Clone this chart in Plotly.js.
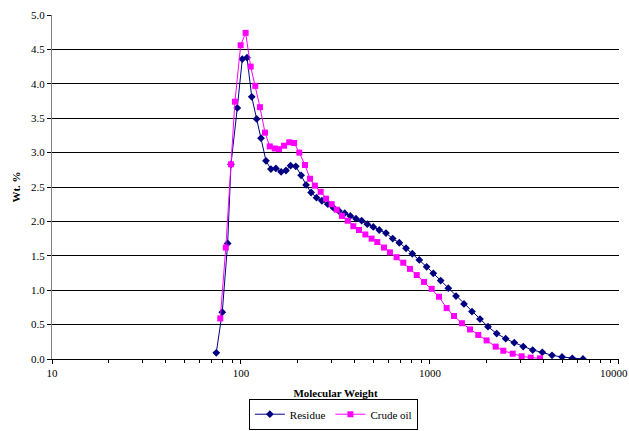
<!DOCTYPE html>
<html>
<head>
<meta charset="utf-8">
<script src="https://cdn.plot.ly/plotly-3.0.1.min.js"></script>
<style>html,body{margin:0;padding:0;background:#fff;}#chart{width:629px;height:431px;}</style>
</head>
<body>
<div id="chart"></div>
<script>
const residueMW = [74, 79.6, 85, 88.5, 95.6, 101.6, 107.6, 114, 121, 127.6, 135.6, 144, 153, 163, 173, 183, 195, 208, 221, 235, 251, 268, 288, 308, 329, 354, 379, 406, 435, 466, 501, 539, 585, 635, 688, 747, 806, 878, 960, 1041, 1139, 1250, 1373, 1513, 1668, 1839, 2027, 2254, 2515, 2793, 3116, 3493, 3929, 4422, 4995, 5662, 6450];
const residueWt = [0.09, 0.68, 1.68, 2.83, 3.65, 4.36, 4.38, 3.81, 3.49, 3.21, 2.88, 2.76, 2.77, 2.72, 2.74, 2.81, 2.80, 2.67, 2.53, 2.42, 2.345, 2.30, 2.25, 2.20, 2.155, 2.12, 2.08, 2.04, 2.01, 1.96, 1.92, 1.875, 1.83, 1.75, 1.69, 1.61, 1.53, 1.44, 1.34, 1.245, 1.14, 1.03, 0.915, 0.80, 0.69, 0.58, 0.47, 0.37, 0.295, 0.237, 0.18, 0.13, 0.097, 0.054, 0.029, 0.01, 0.0];
const crudeMW = [77.7, 83.1, 88.5, 92.9, 99.6, 105.8, 112.5, 119, 126, 134, 142, 151, 159, 169, 180, 191, 203.5, 218, 232, 246, 264, 282, 302, 321, 342, 367, 393, 421, 455, 491, 526, 571, 614, 666, 722, 784, 851, 930, 1021, 1116, 1225, 1340, 1476, 1628, 1801, 1994, 2227, 2443, 2739, 3055, 3411, 3820];
const crudeWt = [0.59, 1.62, 2.83, 3.74, 4.56, 4.74, 4.25, 3.97, 3.66, 3.29, 3.09, 3.06, 3.05, 3.10, 3.15, 3.14, 3.00, 2.82, 2.62, 2.52, 2.43, 2.33, 2.25, 2.17, 2.08, 2.01, 1.93, 1.875, 1.81, 1.75, 1.70, 1.62, 1.55, 1.48, 1.40, 1.31, 1.22, 1.12, 1.02, 0.905, 0.74, 0.625, 0.52, 0.43, 0.35, 0.27, 0.18, 0.12, 0.077, 0.039, 0.02, 0.01];
const xTickVals = [10, 100, 1000, 10000];
const xTickText = ["10", "100", "1000", ""];
const lastTickText = "10000";
const seriesNames = ["Residue", "Crude oil"];

const minorVals = [];
for (const d of [10, 100, 1000]) for (let k = 2; k <= 9; k++) minorVals.push(d * k);

const fam = "Liberation Serif";
const f = (s) => ({family: fam, size: s, color: "#000"});

const traces = [
  {x: residueMW, y: residueWt, name: seriesNames[0], type: "scatter", mode: "lines+markers",
   line: {color: "#000080", width: 1}, marker: {symbol: "diamond", size: 6, color: "#000080"}},
  {x: crudeMW, y: crudeWt, name: seriesNames[1], type: "scatter", mode: "lines+markers",
   line: {color: "#FF00FF", width: 1}, marker: {symbol: "square", size: 6, color: "#FF00FF"}}
];

const layout = {
  width: 629, height: 431,
  margin: {l: 52, r: 10, t: 15, b: 72, autoexpand: false},
  paper_bgcolor: "#fff", plot_bgcolor: "#fff",
  font: f(11),
  showlegend: true,
  legend: {orientation: "h", xref: "container", yref: "container",
    x: 0.53, xanchor: "center", y: 0.003, yanchor: "bottom",
    bordercolor: "#000", borderwidth: 1, font: f(11),
    itemwidth: 30, tracegroupgap: 0},
  annotations: [{text: lastTickText, xref: "paper", yref: "paper", x: 1, y: 0,
    xanchor: "center", yanchor: "top", xshift: -5, yshift: -6, showarrow: false, font: f(11)}],
  xaxis: {type: "log", range: [1, 4.0001], tickvals: xTickVals, ticktext: xTickText,
    automargin: false, ticklabeloverflow: "allow",
    ticks: "outside", ticklen: 4, tickcolor: "#000", showgrid: false, zeroline: false,
    showline: true, linecolor: "#000", linewidth: 1,
    minor: {tickvals: minorVals, ticks: "outside", ticklen: 3, tickcolor: "#000", showgrid: false},
    tickfont: f(11),
    title: {text: "<b>Molecular Weight</b>", font: f(11), standoff: 14}},
  yaxis: {range: [0, 5], dtick: 0.5, tick0: 0, tickformat: ".1f", automargin: false,
    ticks: "outside", ticklen: 4, tickcolor: "#000",
    showgrid: true, gridcolor: "#000", gridwidth: 1, zeroline: false,
    showline: true, linecolor: "#808080", linewidth: 1,
    tickfont: f(11),
    title: {text: "<b>Wt. %</b>", font: f(11), standoff: 8}}
};

Plotly.newPlot("chart", traces, layout, {displayModeBar: false, staticPlot: true});
</script>
</body>
</html>
